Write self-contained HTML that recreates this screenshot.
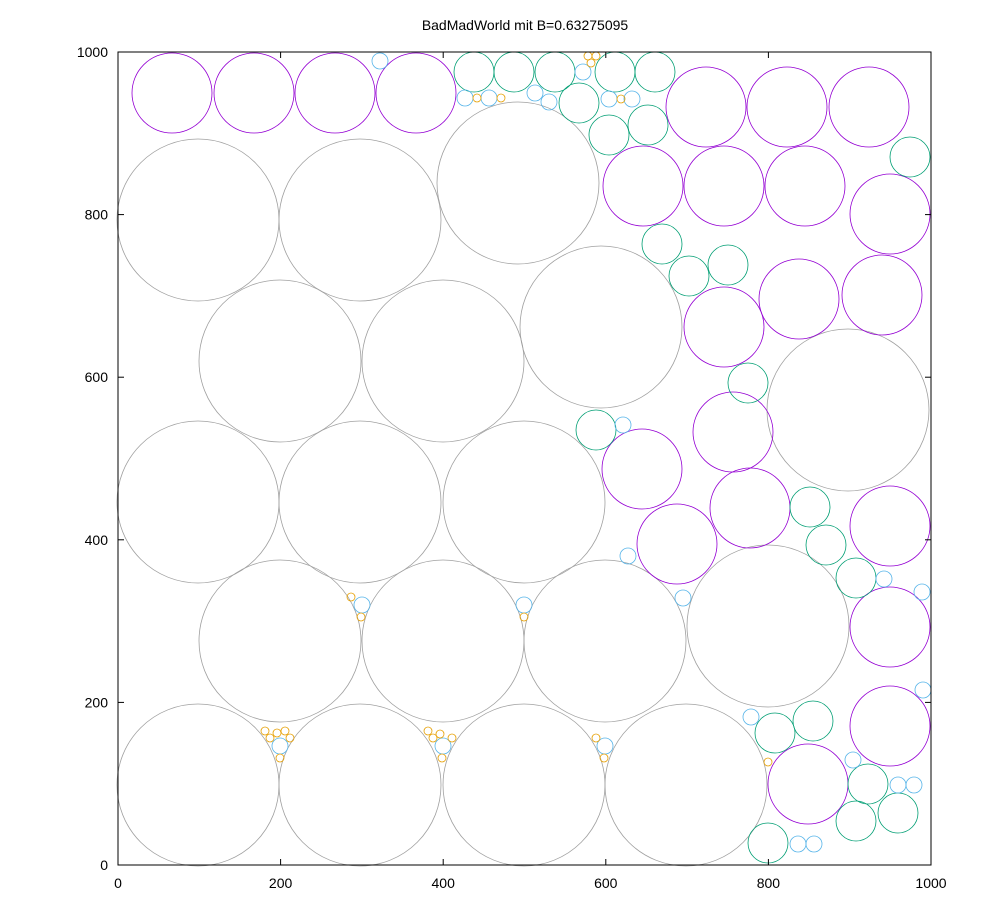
<!DOCTYPE html>
<html><head><meta charset="utf-8"><style>
body{margin:0;background:#fff}
svg{display:block;font-family:"Liberation Sans",sans-serif}
</style></head><body>
<svg width="1000" height="900" viewBox="0 0 1000 900" xmlns="http://www.w3.org/2000/svg">
<rect width="1000" height="900" fill="#fff"/>
<text x="525" y="30" font-size="14" text-anchor="middle">BadMadWorld mit B=0.63275095</text>
<g fill="none" stroke-width="0.8">
<g stroke="#a0a0a0" id="gray"></g>
<g stroke="#9400d3" id="pur"></g>
<g stroke="#009e73" id="grn"></g>
<g stroke="#56b4e9" id="cy"></g>
<g stroke="#e69f00" id="or"></g>
</g>
<rect x="118" y="52" width="813" height="813" fill="none" stroke="#000" stroke-width="1"/>
<g id="ax" stroke="#000" stroke-width="1"></g>
<g id="lab" font-size="14"></g>
<script>
var ns="http://www.w3.org/2000/svg";
function add(id,r,pts){var g=document.getElementById(id);pts.forEach(function(p){var c=document.createElementNS(ns,"circle");c.setAttribute("cx",p[0]);c.setAttribute("cy",p[1]);c.setAttribute("r",r);g.appendChild(c);});}
add("gray",81,[[198,785],[360,785],[524,785],[686,785],[280,641],[443,641],[605,641],[768,626],[198,502],[360,502],[524,502],[848,410],[280,361],[443,361],[601,327],[198,220],[360,220],[518,183]]);
add("pur",40,[[172,93],[254,93],[335,93],[416,93],[706,107],[787,107],[869,107],[643,186],[724,186],[805,186],[890,214],[724,327],[799,299],[882,295],[733,432],[642,469],[750,508],[677,544],[890,526],[890,627],[890,726],[808,784]]);
add("grn",20,[[474,72],[514,72],[555,72],[615,72],[655,72],[579,103],[648,125],[609,135],[910,157],[662,244],[689,276],[728,265],[748,383],[596,430],[810,507],[826,545],[856,578],[775,733],[813,721],[868,784],[856,821],[898,813],[768,843]]);
add("cy",8,[[380,61],[583,72],[465,98],[489,98],[535,93],[549,102],[609,99],[632,99],[623,425],[628,556],[683,598],[362,605],[524,605],[922,592],[884,579],[923,690],[751,717],[280,746],[443,746],[605,746],[853,760],[798,844],[814,844],[898,785],[914,785]]);
add("or",4,[[588,56],[596,56],[591,63],[477,98],[501,98],[621,99],[351,597],[361,617],[524,617],[265,731],[270,738],[277,733],[285,731],[290,738],[280,758],[428,731],[433,738],[440,734],[452,738],[442,758],[596,738],[604,758],[768,762]]);
var ax=document.getElementById("ax"),lab=document.getElementById("lab");
function ln(x1,y1,x2,y2){var l=document.createElementNS(ns,"line");l.setAttribute("x1",x1);l.setAttribute("y1",y1);l.setAttribute("x2",x2);l.setAttribute("y2",y2);ax.appendChild(l);}
function tx(x,y,s,a){var t=document.createElementNS(ns,"text");t.setAttribute("x",x);t.setAttribute("y",y);t.setAttribute("text-anchor",a);t.textContent=s;lab.appendChild(t);}
for(var i=0;i<=5;i++){var x=118+i*162.6,y=865-i*162.6,v=String(i*200);
ln(x,865,x,859);ln(x,52,x,58);ln(118,y,124,y);ln(931,y,925,y);
tx(x,888,v,"middle");tx(108,y+5,v,"end");}
</script>
</svg>
</body></html>
